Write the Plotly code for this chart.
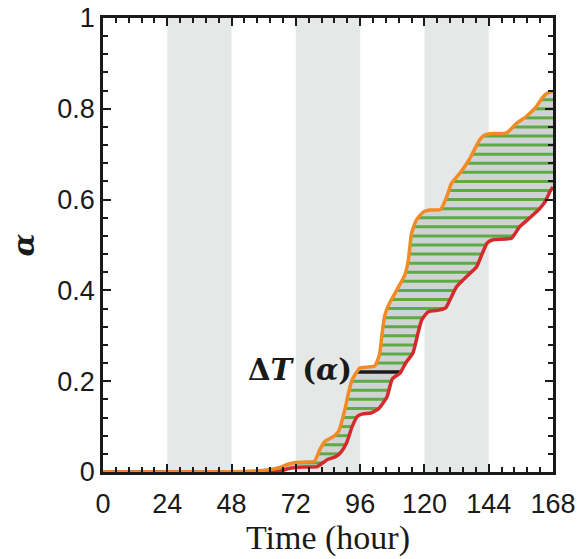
import numpy as np
import plotly.graph_objects as go

# Shaded (night) periods, hours
night_start = [24, 72, 120]
night_end = [48, 96, 144]

# Upper (orange) curve: time (h), alpha
t_upper = [0, 24, 48, 56, 62, 66, 69, 72, 76, 79, 81, 83, 86, 88, 90, 91.5, 93, 95.9, 98.5, 101.5,
           103.2, 104.2, 105.2, 106.8, 109.6, 112.7, 114, 115.2, 117, 119.6, 122, 126, 128.3, 130.1,
           133.5, 136.9, 140.7, 142.5, 144.5, 150.7, 154.4, 158, 161.8, 164.4, 166.5, 168]
a_upper = [0, 0, 0.0005, 0.002, 0.005, 0.01, 0.017, 0.021, 0.022, 0.024, 0.05, 0.068, 0.078,
           0.09, 0.13, 0.17, 0.203, 0.229, 0.231, 0.234, 0.258, 0.305, 0.345, 0.37, 0.4, 0.434,
           0.467, 0.526, 0.555, 0.573, 0.577, 0.578, 0.606, 0.636, 0.66, 0.69, 0.732, 0.742,
           0.745, 0.747, 0.768, 0.783, 0.805, 0.827, 0.836, 0.838]

# Lower (red) curve
t_lower = [0, 24, 48, 60, 66, 69, 72, 76, 80, 82, 84, 87, 89, 91, 93, 95, 97, 100, 103, 106,
           108, 110.9, 113, 115.7, 117.6, 119, 121.4, 125.8, 128, 130, 132, 136, 139.5, 141.5, 143.5,
           146, 152.5, 155.5, 158, 160.5, 163, 165, 166.8, 168]
a_lower = [0, 0, 0, 0.0005, 0.002, 0.007, 0.01, 0.011, 0.012, 0.02, 0.028, 0.034, 0.045, 0.065,
           0.1, 0.123, 0.128, 0.13, 0.14, 0.165, 0.205, 0.218, 0.24, 0.262, 0.306, 0.335, 0.353,
           0.357, 0.362, 0.385, 0.408, 0.432, 0.452, 0.48, 0.505, 0.512, 0.515, 0.54, 0.553,
           0.566, 0.58, 0.595, 0.617, 0.628]

# Hatch levels (alpha) and highlighted level
hatch_levels = [round(0.02 * k, 2) for k in range(1, 42) if k != 11]
delta_level = 0.22

x_ticks = [0, 24, 48, 72, 96, 120, 144, 168]
y_ticks = [0, 0.2, 0.4, 0.6, 0.8, 1]
y_ticktext = ["0", "0.2", "0.4", "0.6", "0.8", "1"]

ORANGE = "#f28a25"
RED = "#d52a2c"
GREEN = "#5cab45"
FILL = "#d0d2d3"
BAND = "#e6e7e7"
INK = "#1a1a1a"
SMOOTH = 0.5


def crossing(levels, t, a):
    return np.interp(levels, np.array(a), np.array(t), right=168)


fig = go.Figure()

# gray fill between curves
fig.add_trace(go.Scatter(x=t_lower, y=a_lower, mode="lines",
                         line=dict(width=0, shape="spline", smoothing=SMOOTH),
                         hoverinfo="skip", showlegend=False))
fig.add_trace(go.Scatter(x=t_upper, y=a_upper, mode="lines",
                         line=dict(width=0, shape="spline", smoothing=SMOOTH),
                         fill="tonexty", fillcolor=FILL, hoverinfo="skip", showlegend=False))

# green hatch lines
lv = np.array(hatch_levels)
xu = crossing(lv, t_upper, a_upper)
xl = crossing(lv, t_lower, a_lower)
hx, hy = [], []
for l, a0, a1 in zip(lv, xu, xl):
    hx += [a0, a1, None]
    hy += [l, l, None]
fig.add_trace(go.Scatter(x=hx, y=hy, mode="lines", line=dict(color=GREEN, width=3),
                         hoverinfo="skip", showlegend=False))

# black delta line
du = crossing([delta_level], t_upper, a_upper)[0]
dl = crossing([delta_level], t_lower, a_lower)[0]
fig.add_trace(go.Scatter(x=[du, dl], y=[delta_level, delta_level], mode="lines",
                         line=dict(color=INK, width=3.5), showlegend=False))

# curves
fig.add_trace(go.Scatter(x=t_lower, y=a_lower, mode="lines",
                         line=dict(color=RED, width=3.5, shape="spline", smoothing=SMOOTH),
                         showlegend=False))
fig.add_trace(go.Scatter(x=t_upper, y=a_upper, mode="lines",
                         line=dict(color=ORANGE, width=3.5, shape="spline", smoothing=SMOOTH),
                         showlegend=False))

for s, e in zip(night_start, night_end):
    fig.add_shape(type="rect", xref="x", yref="y", x0=s, x1=e, y0=0, y1=1,
                  fillcolor=BAND, line=dict(width=0), layer="below")

fig.add_annotation(x=du, y=delta_level, xref="x", yref="y", xanchor="right", yanchor="middle",
                   xshift=-3, yshift=2, showarrow=False,
                   text="<b>Δ<i>T</i>&nbsp;(<i>α</i>)</b>",
                   font=dict(family="DejaVu Serif", size=29, color=INK))

axis_common = dict(showline=True, linecolor=INK, linewidth=2.5, mirror="allticks",
                   ticks="inside", ticklen=8, tickwidth=2, tickcolor=INK,
                   showgrid=False, zeroline=False, automargin=False,
                   tickfont=dict(family="Liberation Sans", size=27, color=INK))

fig.update_xaxes(range=[0, 168], tickvals=x_ticks, **axis_common, ticklabelstandoff=6,
                 minor=dict(ticks="inside", dtick=4.8, tick0=0, ticklen=5, tickwidth=2, tickcolor=INK),
                 title=dict(text="Time (hour)", font=dict(family="Liberation Serif", size=34, color=INK),
                            standoff=6))
fig.update_yaxes(range=[0, 1], tickvals=y_ticks, ticktext=y_ticktext, **axis_common,
                 minor=dict(ticks="inside", dtick=0.04, tick0=0, ticklen=5, tickwidth=2, tickcolor=INK),
                 title=dict(text="<b><i>α</i></b>", font=dict(family="DejaVu Serif", size=30, color=INK),
                            standoff=14))

fig.update_layout(width=586, height=559, margin=dict(l=103, r=33, t=18, b=87),
                  paper_bgcolor="white", plot_bgcolor="white")

fig.write_html("out.html")
